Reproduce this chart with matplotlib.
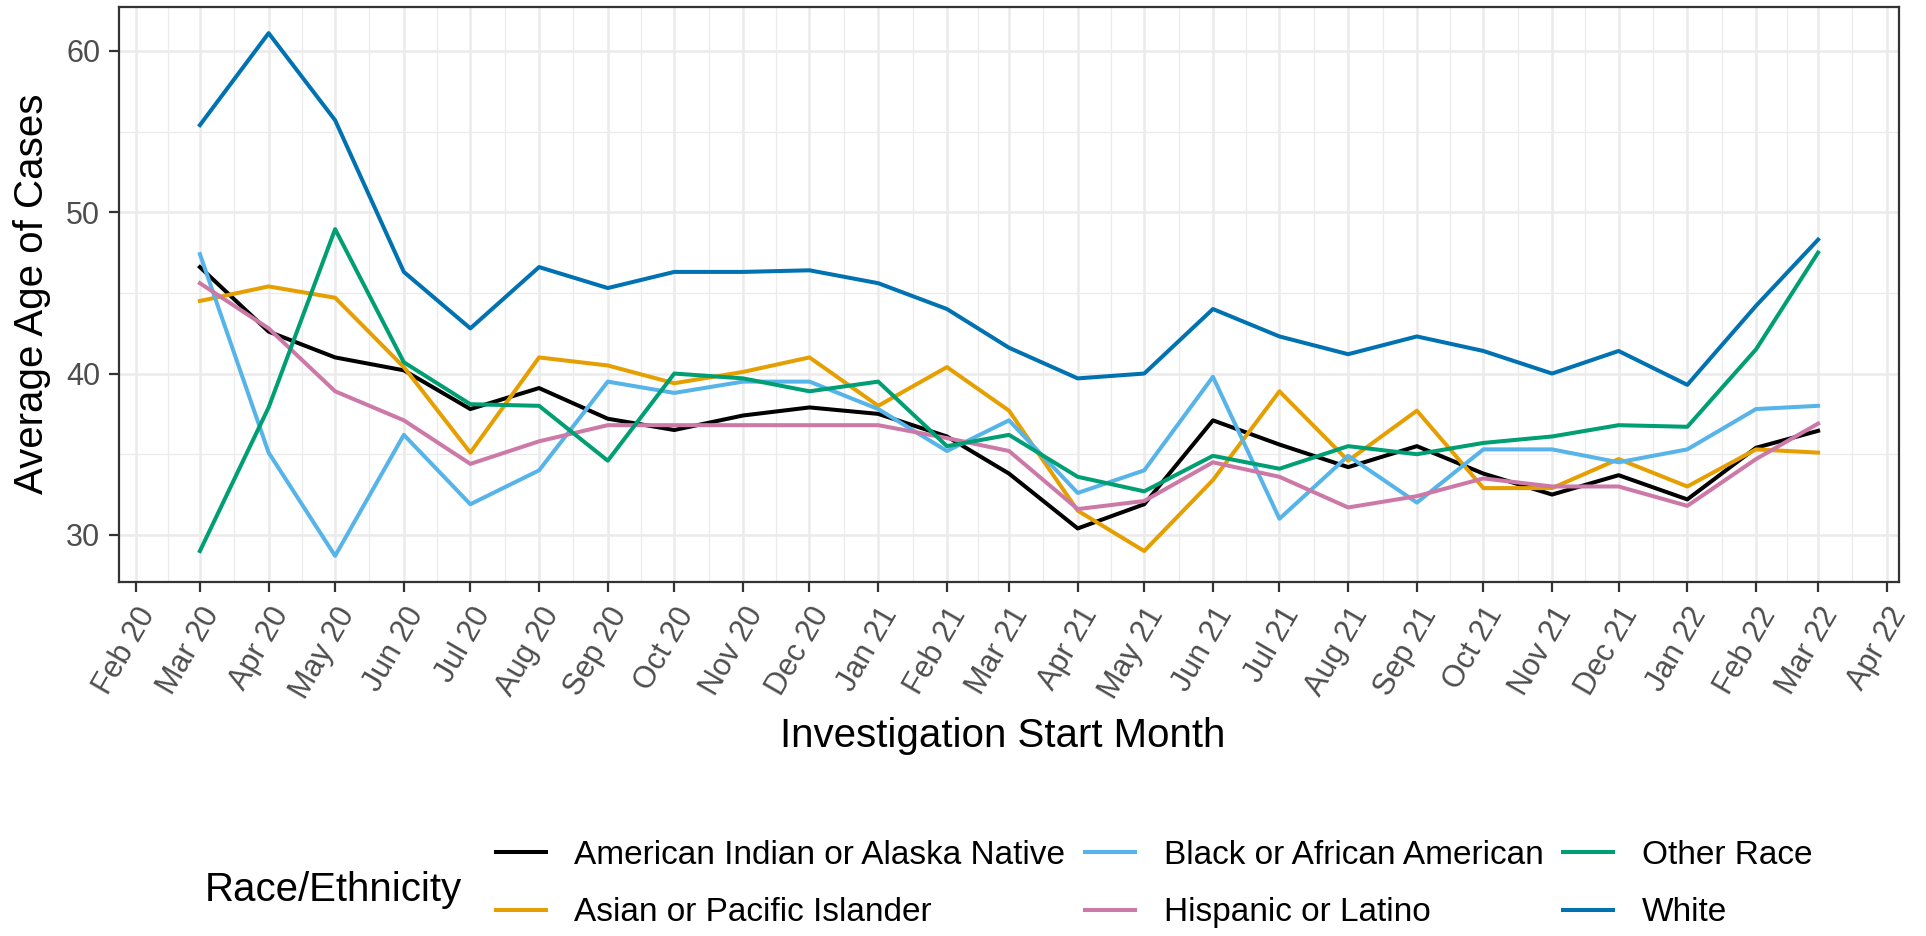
import datetime as dt
import matplotlib
matplotlib.use("Agg")
import matplotlib.pyplot as plt
import matplotlib.dates as mdates

plt.rcParams["font.family"] = ["Liberation Sans", "DejaVu Sans"]

# months Mar 2020 .. Mar 2022
months = [dt.date(2020 + (2 + i) // 12, (2 + i) % 12 + 1, 1) for i in range(25)]

groups = [
    "American Indian or Alaska Native",
    "Asian or Pacific Islander",
    "Black or African American",
    "Hispanic or Latino",
    "Other Race",
    "White",
]
colors = ["#000000", "#E69F00", "#56B4E9", "#CC79A7", "#009E73", "#0072B2"]

aian = [46.6, 42.6, 41.0, 40.2, 37.8, 39.1, 37.2, 36.5, 37.4, 37.9, 37.5, 36.1, 33.8,
        30.4, 31.9, 37.1, 35.6, 34.2, 35.5, 33.8, 32.5, 33.7, 32.2, 35.4, 36.45]
asian = [44.5, 45.4, 44.7, 40.4, 35.1, 41.0, 40.5, 39.4, 40.1, 41.0, 38.0, 40.4, 37.7,
         31.5, 29.0, 33.4, 38.9, 34.6, 37.7, 32.9, 32.9, 34.7, 33.0, 35.3, 35.1]
black = [47.4, 35.1, 28.7, 36.2, 31.9, 34.0, 39.5, 38.8, 39.5, 39.5, 37.8, 35.2, 37.1,
         32.6, 34.0, 39.8, 31.0, 34.9, 32.0, 35.3, 35.3, 34.5, 35.3, 37.8, 38.0]
hispanic = [45.6, 42.8, 38.9, 37.1, 34.4, 35.8, 36.8, 36.8, 36.8, 36.8, 36.8, 36.0, 35.2,
            31.6, 32.1, 34.5, 33.6, 31.7, 32.4, 33.5, 33.0, 33.0, 31.8, 34.7, 36.9]
other = [29.0, 37.9, 48.95, 40.7, 38.1, 38.0, 34.6, 40.0, 39.7, 38.9, 39.5, 35.5, 36.2,
         33.6, 32.7, 34.9, 34.1, 35.5, 35.0, 35.7, 36.1, 36.8, 36.7, 41.5, 47.5]
white = [55.4, 61.1, 55.7, 46.3, 42.8, 46.6, 45.3, 46.3, 46.3, 46.4, 45.6, 44.0, 41.6,
         39.7, 40.0, 44.0, 42.3, 41.2, 42.3, 41.4, 40.0, 41.4, 39.3, 44.2, 48.3]
series = [aian, asian, black, hispanic, other, white]

W, H = 1926, 936
fig = plt.figure(figsize=(W / 100, H / 100), dpi=100)
ax = fig.add_axes([119 / W, 1 - 582 / H, (1899 - 119) / W, (582 - 7) / H])

lines = []
for name, vals, col in zip(groups, series, colors):
    ln, = ax.plot(months, vals, color=col, lw=2.9, label=name, zorder=3)
    lines.append(ln)

# ggplot style 5% expansion
x0, x1 = mdates.date2num(months[0]), mdates.date2num(months[-1])
ax.set_xlim(x0 - 0.05 * (x1 - x0), x1 + 0.05 * (x1 - x0))
allv = [v for s in series for v in s]
lo, hi = min(allv), max(allv)
ax.set_ylim(lo - 0.05 * (hi - lo), hi + 0.05 * (hi - lo))

major = [mdates.date2num(dt.date(2020 + (1 + i) // 12, (1 + i) % 12 + 1, 1)) for i in range(27)]
minor = [(a + b) / 2 for a, b in zip(major[:-1], major[1:])]
ax.set_xticks(major)
ax.set_xticks(minor, minor=True)
ax.xaxis.set_major_formatter(mdates.DateFormatter("%b %y"))
ax.set_yticks([30, 40, 50, 60])
ax.set_yticks([35, 45, 55], minor=True)

ax.grid(which="major", color="#EBEBEB", lw=1.8, zorder=0)
ax.grid(which="minor", color="#EBEBEB", lw=0.9, zorder=0)
ax.set_axisbelow(True)
for sp in ax.spines.values():
    sp.set_color("#333333")
    sp.set_linewidth(1.6)

ax.tick_params(which="major", length=7.5, width=1.6, color="#333333",
               labelcolor="#4D4D4D", labelsize=22)
ax.tick_params(which="minor", length=0)
ax.tick_params(axis="y", pad=6)
ax.tick_params(axis="x", pad=7)
for lab in ax.get_xticklabels():
    lab.set_rotation(60)
    lab.set_ha("right")
    lab.set_va("top")
    lab.set_rotation_mode("anchor")

fig.text(32 / W, 1 - 294 / H, "Average Age of Cases", rotation=90, fontsize=29,
         ha="center", va="center")
fig.text(1003 / W, 1 - 736 / H, "Investigation Start Month", fontsize=29,
         ha="center", va="center")

fig.text(205 / W, 1 - 901 / H, "Race/Ethnicity", fontsize=29, ha="left", va="baseline")
fig.legend(lines, groups, ncol=3, loc="center left",
           bbox_to_anchor=(496 / W, 1 - 884 / H), frameon=False, fontsize=24,
           handlelength=1.5, handletextpad=0.85, columnspacing=0.6,
           labelspacing=0.8, borderpad=0, borderaxespad=0)

fig.savefig("out.png", dpi=100, facecolor="white")
